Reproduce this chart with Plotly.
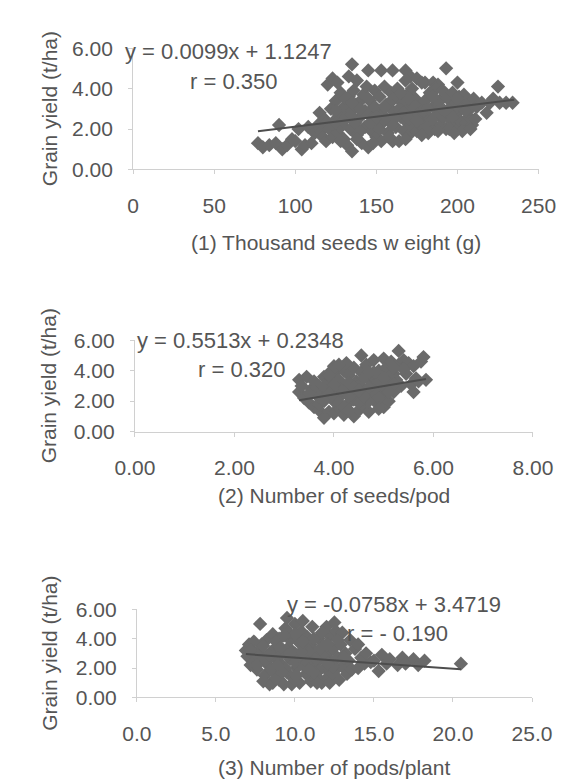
import plotly.graph_objects as go

W, H = 571, 783

# ---------------- data ----------------
# (1) Thousand seeds weight (g) vs grain yield (t/ha)
tsw_x = [77, 80, 84, 88, 90, 92, 95, 98, 100, 102, 104, 106, 108, 110, 112, 114, 115, 116, 117, 118, 119, 119,
         120, 123, 126, 133, 135, 138, 145, 153, 160, 168, 171, 175, 180, 185, 188, 193, 200, 225,
         121, 122, 123, 124, 125, 126, 127, 128, 129, 130, 130, 131, 132, 133, 134, 135, 135, 136, 137, 138,
         139, 140, 141, 142, 143, 144, 145, 145, 146, 147, 148, 149, 150, 150, 151, 152, 153, 154, 155, 156,
         157, 158, 159, 160, 160, 161, 162, 163, 164, 165, 166, 167, 168, 168, 169, 170, 170, 171, 172, 173,
         174, 175, 176, 177, 178, 179, 180, 181, 182, 183, 184, 185, 186, 187, 188, 189, 190, 191, 192, 193,
         194, 195, 196, 197, 198, 199, 200, 200, 201, 202, 203, 204, 205, 206, 207, 208, 209, 210, 211, 212,
         215, 218, 220, 222, 226, 230, 234, 203]
tsw_y = [1.3, 1.1, 1.2, 1.3, 2.2, 1.0, 1.2, 1.5, 1.4, 2.0, 1.0, 1.2, 2.1, 1.3, 1.8, 2.2, 2.8, 1.9, 1.6, 2.5, 1.4, 2.3,
         4.2, 4.5, 4.3, 4.6, 5.2, 4.4, 4.9, 4.9, 4.9, 4.9, 4.6, 4.5, 4.3, 4.3, 4.2, 5.0, 4.3, 4.1,
         2.0, 3.0, 1.6, 2.4, 3.4, 1.8, 2.7, 3.8, 2.2, 1.5, 3.1, 2.6, 1.2, 3.6, 2.0, 0.9, 2.9, 3.9, 2.3, 1.7,
         3.3, 2.6, 1.3, 3.7, 2.1, 4.1, 1.1, 2.8, 3.4, 1.9, 2.5, 3.9, 1.6, 3.0, 2.2, 3.6, 1.4, 2.7, 4.1, 3.2,
         1.8, 2.4, 3.8, 1.4, 2.9, 3.5, 2.1, 4.0, 1.4, 2.6, 3.3, 1.9, 4.4, 2.4, 3.7, 1.7, 3.0, 2.2, 4.0, 2.7,
         3.5, 1.9, 3.1, 2.4, 4.3, 2.0, 3.4, 2.7, 1.8, 3.8, 2.3, 3.1, 2.0, 4.0, 2.7, 3.4, 2.2, 3.9, 2.9, 2.0,
         3.5, 2.5, 3.1, 3.8, 2.2, 3.3, 2.0, 2.8, 3.6, 2.4, 3.2, 3.7, 2.3, 3.4, 2.6, 3.0, 2.2, 3.5, 2.5, 3.1,
         3.3, 2.8, 3.3, 3.5, 3.3, 3.3, 3.3, 1.9]
tsw_x_core = [125, 128, 131, 134, 137, 140, 143, 146, 149, 152, 155, 158, 161, 164, 167, 170, 173, 176, 179, 182,
              185, 188, 191, 194, 197, 200, 125, 130, 135, 140, 145, 150, 155, 160, 165, 170, 175, 180, 185, 190,
              195, 200, 205, 128, 138, 148, 158, 168, 178, 188, 198, 208]
tsw_y_core = [2.9, 2.1, 3.5, 2.7, 3.2, 1.9, 2.9, 2.3, 3.1, 2.0, 2.4, 3.3, 2.5, 3.0, 2.8, 2.5, 3.2, 2.7, 2.9, 3.0,
              2.5, 3.3, 2.6, 2.8, 2.6, 3.1, 2.3, 2.4, 3.3, 3.0, 3.5, 2.6, 3.1, 2.2, 3.8, 3.5, 2.4, 2.0, 3.6, 3.0,
              2.0, 3.5, 2.9, 1.4, 1.5, 1.3, 1.6, 1.5, 1.7, 1.9, 1.8, 2.0]

# (2) Number of seeds/pod vs grain yield
spp_x = [3.3, 3.3, 3.35, 3.4, 3.45, 3.5, 3.55, 3.6, 3.6, 3.65, 3.7, 3.7, 3.75, 3.8, 3.8, 3.85, 3.9, 3.9, 3.95,
         4.0, 4.0, 4.0, 4.05, 4.1, 4.1, 4.15, 4.2, 4.2, 4.25, 4.3, 4.3, 4.35, 4.4, 4.4, 4.45, 4.5, 4.5, 4.55,
         4.6, 4.6, 4.65, 4.7, 4.7, 4.75, 4.8, 4.8, 4.85, 4.9, 4.9, 4.95, 5.0, 5.0, 5.0, 5.05, 5.1, 5.1, 5.15,
         5.2, 5.2, 5.25, 5.3, 5.3, 5.35, 5.4, 5.45, 5.5, 5.55, 5.6, 5.6, 5.65, 5.7, 5.75, 5.8, 5.85,
         4.55, 4.25, 3.95]
spp_y = [3.4, 2.6, 3.0, 2.2, 3.6, 1.9, 2.8, 1.6, 3.3, 2.4, 1.4, 3.0, 2.0, 0.9, 3.6, 2.6, 1.3, 3.2, 2.2,
         4.3, 1.2, 3.8, 2.8, 1.6, 3.4, 2.4, 1.1, 4.0, 3.0, 1.9, 3.7, 2.6, 1.0, 4.2, 3.3, 1.4, 2.3, 3.9,
         2.8, 1.7, 4.4, 3.5, 1.3, 2.5, 4.7, 3.1, 1.9, 4.0, 2.7, 3.6, 4.8, 1.6, 2.3, 4.2, 3.2, 2.0, 4.6,
         3.8, 2.6, 3.4, 5.3, 4.4, 3.0, 4.7, 3.8, 4.5, 3.1, 4.3, 2.6, 3.5, 3.3, 4.6, 4.9, 3.4,
         5.0, 4.5, 4.0]
spp_x_core = [3.6, 3.7, 3.8, 3.9, 4.0, 4.1, 4.2, 4.3, 4.4, 4.5, 4.6, 4.7, 4.8, 4.9, 5.0, 5.1, 5.2,
              3.7, 3.9, 4.1, 4.3, 4.5, 4.7, 4.9, 5.1,
              3.5, 3.8, 4.0, 4.2, 4.4, 4.6, 4.8, 5.0, 5.2, 5.4, 4.1, 4.3, 4.5, 4.7, 4.9]
spp_y_core = [2.7, 2.3, 3.0, 2.5, 2.0, 2.9, 2.6, 3.2, 2.1, 3.0, 3.5, 2.0, 2.7, 2.2, 3.0, 3.6, 3.1,
              1.8, 3.7, 1.9, 2.3, 1.9, 2.9, 3.3, 2.6,
              2.5, 2.0, 3.1, 1.6, 2.9, 2.3, 3.9, 3.5, 4.2, 4.1, 4.4, 1.4, 2.7, 3.9, 1.5]

# (3) Number of pods/plant vs grain yield
ppp_x = [6.9, 7.0, 7.1, 7.2, 7.3, 7.4, 7.5, 7.6, 7.8, 7.8, 8.0, 8.1, 8.2, 8.3, 8.4, 8.5, 8.6, 8.7, 8.8, 8.9,
         9.0, 9.0, 9.1, 9.2, 9.3, 9.4, 9.5, 9.5, 9.6, 9.7, 9.8, 9.9, 10.0, 10.0, 10.1, 10.2, 10.3, 10.4, 10.5, 10.5,
         10.6, 10.7, 10.8, 10.9, 11.0, 11.0, 11.1, 11.2, 11.3, 11.4, 11.5, 11.6, 11.7, 11.8, 11.9, 12.0, 12.0, 12.1,
         12.2, 12.3, 12.4, 12.5, 12.5, 12.6, 12.7, 12.8, 12.9, 13.0, 13.0, 13.2, 13.3, 13.4, 13.5, 13.6, 13.8,
         14.0, 14.0, 14.2, 14.4, 14.5, 14.8, 15.0, 15.3, 15.5, 15.8, 16.0, 16.5, 16.8, 17.0, 17.5, 17.8, 18.2, 20.5,
         8.0, 8.6, 9.8, 11.4, 12.2, 10.0, 7.5, 7.2]
ppp_y = [3.2, 2.8, 3.6, 2.2, 3.0, 3.8, 2.5, 1.9, 5.0, 3.3, 2.7, 1.5, 3.9, 2.2, 0.9, 3.1, 4.3, 1.8, 2.6, 3.5,
         1.2, 4.0, 2.3, 3.0, 0.9, 4.7, 5.4, 1.7, 3.4, 2.6, 4.2, 1.3, 5.0, 3.0, 2.0, 3.8, 1.0, 4.5, 5.2, 2.5,
         3.3, 1.6, 4.1, 2.8, 1.1, 3.6, 4.8, 2.2, 3.1, 1.4, 4.0, 2.6, 1.0, 3.5, 2.0, 4.8, 2.9, 1.4,
         4.2, 2.4, 3.3, 5.1, 1.8, 4.5, 2.7, 1.2, 3.6, 2.1, 4.4, 3.0, 1.6, 2.5, 3.9, 1.9, 3.3,
         3.6, 2.0, 2.7, 2.3, 3.0, 2.4, 2.5, 1.8, 2.9, 2.3, 2.6, 2.2, 2.7, 2.3, 2.6, 2.2, 2.5, 2.3,
         1.1, 1.0, 0.9, 1.0, 1.0, 1.2, 3.0, 3.2]
ppp_x_core = [7.6, 7.9, 8.2, 8.5, 8.8, 9.1, 9.4, 9.7, 10.0, 10.3, 10.6, 10.9, 11.2, 11.5, 11.8, 12.1, 12.4, 12.7,
              8.0, 8.4, 8.8, 9.2, 9.6, 10.0, 10.4, 10.8, 11.2, 11.6, 12.0, 12.4,
              8.9, 9.3, 9.7, 10.1, 10.5, 10.9, 11.3, 11.7, 12.1, 13.1]
ppp_y_core = [2.2, 3.6, 2.5, 1.9, 3.8, 3.4, 2.0, 3.9, 2.4, 2.8, 2.1, 3.1, 4.0, 1.8, 2.8, 3.6, 1.6, 3.9,
              3.5, 2.9, 1.3, 1.7, 4.4, 4.3, 3.1, 2.4, 1.7, 3.3, 3.6, 2.1,
              2.2, 4.2, 3.0, 1.5, 3.8, 1.9, 2.6, 4.4, 2.3, 2.7]

# trend lines (slope, intercept) as printed on the chart, and their x-extent
trend_coef = [(0.0099, 1.1247), (0.5513, 0.2348), (-0.0758, 3.4719)]
trend_ext = [(77, 235), (3.3, 5.85), (6.9, 20.5)]

eq_text = ["y = 0.0099x + 1.1247", "y = 0.5513x + 0.2348", "y = -0.0758x + 3.4719"]
r_text = ["r = 0.350", "r = 0.320", "r = - 0.190"]
x_titles = ["(1) Thousand seeds w eight (g)", "(2) Number of seeds/pod", "(3) Number of pods/plant"]
y_title = "Grain yield (t/ha)"
x_ranges = [(0, 250), (0, 8), (0, 25)]
x_dticks = [50, 2, 5]
x_fmts = ["d", ".2f", ".1f"]

# ---------------- layout (pixels) ----------------
areas = [(113, 549, 29, 154), (115, 543, 330, 424), (117, 542, 607, 698)]   # left, right, top, bottom
eq_pos = [((216, 32), (221, 63)), ((229, 330), (230, 360)), ((394, 602), (397, 632))]
xt_pos = [(331, 229), (329, 490), (329, 770)]

TXT = "#555555"
FONT = "Liberation Sans, Arial, sans-serif"
FS = 21
MK = "#6a6a6a"

fig = go.Figure()
datasets = [(tsw_x + tsw_x_core, tsw_y + tsw_y_core),
            (spp_x + spp_x_core, spp_y + spp_y_core),
            (ppp_x + ppp_x_core, ppp_y + ppp_y_core)]
annotations = []


def px(x):
    return x / W


def py(y):
    return 1 - y / H


def note(x, y, text, size, angle=0):
    return dict(x=px(x), y=py(y), xref="paper", yref="paper", text=text,
                xanchor="center", yanchor="middle", textangle=angle,
                showarrow=False, font=dict(family=FONT, size=size, color=TXT))


for i, (xs, ys) in enumerate(datasets):
    n = i + 1
    xa = "x" if n == 1 else f"x{n}"
    ya = "y" if n == 1 else f"y{n}"
    fig.add_trace(go.Scatter(
        x=xs, y=ys, mode="markers", xaxis=xa, yaxis=ya,
        marker=dict(symbol="diamond", size=11, color=MK, line=dict(width=0)),
        showlegend=False, hoverinfo="skip"))
    m, b = trend_coef[i]
    x0, x1 = trend_ext[i]
    fig.add_trace(go.Scatter(
        x=[x0, x1], y=[m * x0 + b, m * x1 + b], mode="lines", xaxis=xa, yaxis=ya,
        line=dict(color="#4d4d4d", width=2), showlegend=False, hoverinfo="skip"))

    l, r, t, btm = areas[i]
    xkey = "xaxis" if n == 1 else f"xaxis{n}"
    ykey = "yaxis" if n == 1 else f"yaxis{n}"
    fig.update_layout(**{
        xkey: dict(domain=[px(l), px(r)], anchor=ya, range=list(x_ranges[i]),
                   dtick=x_dticks[i], tick0=0, tickformat=x_fmts[i],
                   showline=True, linecolor="#d0d0d0", linewidth=1,
                   ticks="outside", ticklen=4, tickcolor="#d0d0d0",
                   ticklabelstandoff=13,
                   showgrid=False, zeroline=False,
                   tickfont=dict(family=FONT, size=FS, color=TXT)),
        ykey: dict(domain=[py(btm), py(t)], anchor=xa, range=[0, 6], dtick=2,
                   tickformat=".2f", showline=True, linecolor="#d0d0d0", linewidth=1,
                   ticks="outside", ticklen=4, tickcolor="#d0d0d0",
                   ticklabelstandoff=11,
                   showgrid=False, zeroline=False,
                   tickfont=dict(family=FONT, size=FS, color=TXT)),
    })
    (ex, ey), (rx, ry) = eq_pos[i]
    annotations.append(note(ex, ey, eq_text[i], 22))
    annotations.append(note(rx, ry, r_text[i], 22))
    tx, ty = xt_pos[i]
    annotations.append(note(tx, ty, x_titles[i], FS))
    annotations.append(note(23, (t + btm) / 2, y_title, FS, angle=-90))

fig.update_layout(width=W, height=H, margin=dict(l=0, r=0, t=0, b=0),
                  paper_bgcolor="white", plot_bgcolor="white",
                  annotations=annotations)

fig.write_html("out.html")
